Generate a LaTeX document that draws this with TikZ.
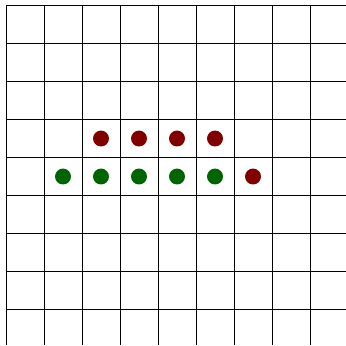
\documentclass[tikz,border=0pt]{standalone}
\usetikzlibrary{calc}

\definecolor{darkred}{RGB}{128,0,0}
\definecolor{darkgreen}{RGB}{0,100,0}

\tikzset{
  gridline/.style={line width=0.6pt, black},
  reddot/.style={circle, fill=darkred, inner sep=0pt, minimum size=0.42cm},
  greendot/.style={circle, fill=darkgreen, inner sep=0pt, minimum size=0.42cm}
}

\begin{document}
\begin{tikzpicture}[scale=1.0]
\def\xr{8.947}
\def\yb{-0.934}

\useasboundingbox (-0.158,\yb) rectangle (\xr,8.145);

\draw[gridline] (0,\yb) grid (\xr,8);

% upper row
\node[reddot] (R1) at (2.5,4.5) {};
\node[reddot] (R2) at (3.5,4.5) {};
\node[reddot] (R3) at (4.5,4.5) {};
\node[reddot] (R4) at (5.5,4.5) {};

% lower row
\node[greendot] (G1) at (1.5,3.5) {};
\node[greendot] (G2) at (2.5,3.5) {};
\node[greendot] (G3) at (3.5,3.5) {};
\node[greendot] (G4) at (4.5,3.5) {};
\node[greendot] (G5) at (5.5,3.5) {};
\node[reddot] (R5) at (6.5,3.5) {};
\end{tikzpicture}
\end{document}
